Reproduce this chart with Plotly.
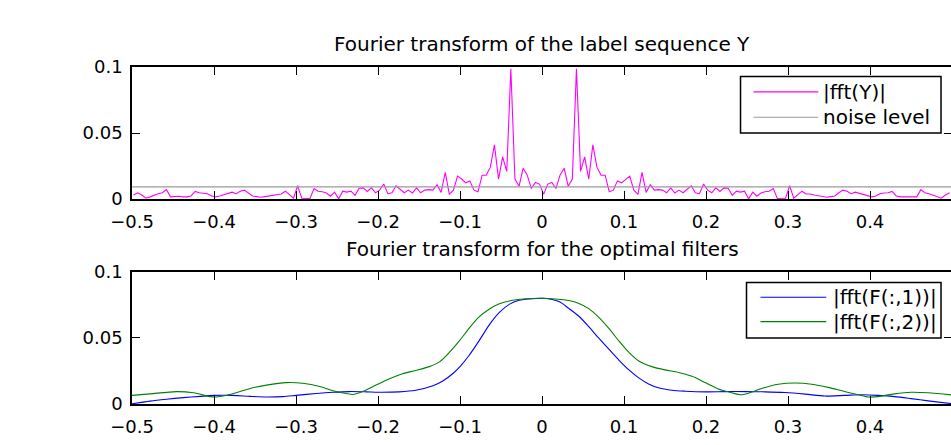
import numpy as np
import plotly.graph_objects as go

# ---------------- data ----------------
# |fft(Y)| sampled on an evenly spaced frequency grid (200 bins)
fft_freq = np.round(np.linspace(-0.498, 0.497, 200), 4)
fft_y = [
    0.0031,
    0.0048, 0.0031, 0.0007, 0.0017, 0.0031, 0.0041, 0.0048, 0.0072, 0.0017, 0.0022,
    0.0022, 0.0017, 0.0017, 0.0024, 0.0058, 0.0048, 0.0046, 0.0041, 0.0024, 0.0017,
    0.0024, 0.0034, 0.0043, 0.0053, 0.0041, 0.0060, 0.0068, 0.0048, 0.0024, 0.0019,
    0.0014, 0.0019, 0.0024, 0.0031, 0.0039, 0.0039, 0.0060, 0.0034, 0.0007, 0.0101,
    0.0007, 0.0005, 0.0005, 0.0080, 0.0060, 0.0056, 0.0046, 0.0022, 0.0053, 0.0002,
    0.0060, 0.0053, 0.0060, 0.0029, 0.0082, 0.0085, 0.0058, 0.0085, 0.0048, 0.0068,
    0.0114, 0.0041, 0.0048, 0.0101, 0.0077, 0.0048, 0.0068, 0.0046, 0.0085, 0.0048,
    0.0068, 0.0072, 0.0068, 0.0109, 0.0051, 0.0203, 0.0036, 0.0068, 0.0174, 0.0152,
    0.0123, 0.0138, 0.0068, 0.0056, 0.0181, 0.0181, 0.0242, 0.0411, 0.0152, 0.0319,
    0.0210, 0.0986, 0.0152, 0.0097, 0.0234, 0.0181, 0.0080, 0.0126, 0.0114,
    0.0036,
    0.0114, 0.0126, 0.0080, 0.0181, 0.0234, 0.0097, 0.0152, 0.0986, 0.0210,
    0.0319, 0.0152, 0.0411, 0.0242, 0.0181, 0.0181, 0.0056, 0.0068, 0.0138, 0.0123,
    0.0152, 0.0174, 0.0068, 0.0036, 0.0203, 0.0051, 0.0109, 0.0068, 0.0072, 0.0068,
    0.0048, 0.0085, 0.0046, 0.0068, 0.0048, 0.0077, 0.0101, 0.0048, 0.0041, 0.0114,
    0.0068, 0.0048, 0.0085, 0.0058, 0.0085, 0.0082, 0.0029, 0.0060, 0.0053, 0.0060,
    0.0002, 0.0053, 0.0022, 0.0046, 0.0056, 0.0060, 0.0080, 0.0005, 0.0005, 0.0007,
    0.0101, 0.0007, 0.0034, 0.0060, 0.0039, 0.0039, 0.0031, 0.0024, 0.0019, 0.0014,
    0.0019, 0.0024, 0.0048, 0.0068, 0.0060, 0.0041, 0.0053, 0.0043, 0.0034, 0.0024,
    0.0017, 0.0024, 0.0041, 0.0046, 0.0048, 0.0058, 0.0024, 0.0017, 0.0017, 0.0022,
    0.0022, 0.0017, 0.0072, 0.0048, 0.0041, 0.0031, 0.0017, 0.0007, 0.0031, 0.0048,
]
noise_level = 0.0093

blue_freq = [-0.5, -0.478, -0.458, -0.4375, -0.417, -0.4, -0.377, -0.356, -0.336, -0.316,
             -0.3, -0.275, -0.255, -0.235, -0.2145, -0.2, -0.174, -0.154, -0.133, -0.121,
             -0.109, -0.1, -0.089, -0.077, -0.0645, -0.052, -0.04, -0.028, -0.016, 0.002,
             0.0207, 0.033, 0.045, 0.057, 0.069, 0.0815, 0.094, 0.106, 0.118, 0.13,
             0.142, 0.1586, 0.175, 0.199, 0.223, 0.248, 0.272, 0.296, 0.321, 0.345,
             0.369, 0.39, 0.41, 0.43, 0.45, 0.471, 0.5]
blue_vals = [0.0002, 0.0022, 0.0036, 0.0048, 0.0058, 0.0065, 0.0065, 0.0058, 0.0053, 0.0056,
             0.0065, 0.0080, 0.0089, 0.0094, 0.0092, 0.0089, 0.0092, 0.0104, 0.0138, 0.0174,
             0.0229, 0.0283, 0.0367, 0.0476, 0.0597, 0.0693, 0.0754, 0.0785, 0.0795, 0.0800,
             0.0775, 0.0722, 0.0664, 0.0585, 0.0500, 0.0415, 0.0331, 0.0258, 0.0198, 0.0152,
             0.0123, 0.0104, 0.0097, 0.0092, 0.0094, 0.0094, 0.0092, 0.0087, 0.0075, 0.0060,
             0.0065, 0.0070, 0.0065, 0.0056, 0.0041, 0.0024, 0.0002]

green_freq = [-0.5, -0.478, -0.4457, -0.425, -0.405, -0.397, -0.377, -0.356, -0.336, -0.312,
              -0.292, -0.271, -0.255, -0.239, -0.231, -0.2186, -0.2024, -0.186, -0.17, -0.154,
              -0.1375, -0.125, -0.113, -0.101, -0.089, -0.077, -0.0645, -0.052, -0.036, -0.02,
              0.0, 0.0166, 0.033, 0.045, 0.057, 0.069, 0.0815, 0.094, 0.106, 0.118,
              0.134, 0.15, 0.1667, 0.183, 0.199, 0.215, 0.2315, 0.2417, 0.252, 0.268,
              0.288, 0.3086, 0.329, 0.349, 0.369, 0.3856, 0.398, 0.41, 0.43, 0.45,
              0.471, 0.5]
green_vals = [0.0065, 0.0077, 0.0094, 0.0085, 0.0056, 0.0053, 0.0077, 0.0118, 0.0143, 0.0162,
              0.0157, 0.0133, 0.0101, 0.0080, 0.0072, 0.0094, 0.0143, 0.0191, 0.0229, 0.0254,
              0.0283, 0.0319, 0.0391, 0.0476, 0.0572, 0.0657, 0.0717, 0.0758, 0.0785, 0.0797,
              0.0800, 0.0795, 0.0783, 0.0761, 0.0722, 0.0657, 0.0572, 0.0476, 0.0391, 0.0326,
              0.0283, 0.0258, 0.0239, 0.0210, 0.0162, 0.0114, 0.0085, 0.0070, 0.0082, 0.0118,
              0.0150, 0.0159, 0.0150, 0.0126, 0.0094, 0.0070, 0.0053, 0.0056, 0.0077, 0.0089,
              0.0085, 0.0068]

x_ticks = [-0.5, -0.4, -0.3, -0.2, -0.1, 0, 0.1, 0.2, 0.3, 0.4, 0.5]
x_tick_text = ["\u22120.5", "\u22120.4", "\u22120.3", "\u22120.2", "\u22120.1", "0",
               "0.1", "0.2", "0.3", "0.4", "0.5"]
y_ticks = [0, 0.05, 0.1]
y_tick_text = ["0", "0.05", "0.1"]

title_top = "Fourier transform of the label sequence Y"
title_bottom = "Fourier transform for the optimal filters"
legend_top = ["|fft(Y)|", "noise level"]
legend_bottom = ["|fft(F(:,1))|", "|fft(F(:,2))|"]

MAGENTA = "#ff00ff"
GRAY = "#9a9a9a"
BLUE = "#0000ff"
GREEN = "#008000"

FONT = "DejaVu Sans"

# ---------------- figure ----------------
W, H = 962, 445
L, R, T, B = 132, 8, 67, 26
plot_h = H - T - B  # 352

fig = go.Figure()
fig.add_trace(go.Scatter(x=fft_freq, y=fft_y, mode="lines",
                         line=dict(color=MAGENTA, width=1.1),
                         xaxis="x", yaxis="y", showlegend=False))
fig.add_trace(go.Scatter(x=[-0.5, 0.5], y=[noise_level, noise_level], mode="lines",
                         line=dict(color=GRAY, width=1.1),
                         xaxis="x", yaxis="y", showlegend=False))
fig.add_trace(go.Scatter(x=blue_freq, y=blue_vals, mode="lines",
                         line=dict(color=BLUE, width=1.1, shape="spline", smoothing=0.8),
                         xaxis="x2", yaxis="y2", showlegend=False))
fig.add_trace(go.Scatter(x=green_freq, y=green_vals, mode="lines",
                         line=dict(color=GREEN, width=1.1, shape="spline", smoothing=0.8),
                         xaxis="x2", yaxis="y2", showlegend=False))

axis_common = dict(showline=True, linecolor="black", linewidth=1.5, mirror="ticks",
                   ticks="inside", ticklen=8, tickwidth=1, tickcolor="black",
                   showgrid=False, zeroline=False,
                   tickfont=dict(family=FONT, size=18, color="black"))

def py2paper(py):
    return (H - B - py) / plot_h

def px2paper(px):
    return (px - L) / (W - L - R)

top_dom = [py2paper(205), 1.0]
bot_dom = [0.0, py2paper(281)]

xax = dict(range=[-0.5, 0.5], tickvals=x_ticks, ticktext=x_tick_text,
           ticklabelstandoff=6, **axis_common)
yax = dict(range=[0, 0.1], tickvals=y_ticks, ticktext=y_tick_text,
           ticklabelstandoff=4, **axis_common)

fig.update_layout(
    width=W, height=H,
    margin=dict(l=L, r=R, t=T, b=B),
    paper_bgcolor="white", plot_bgcolor="white",
    xaxis=dict(domain=[0, 1], anchor="y", **xax),
    yaxis=dict(domain=top_dom, anchor="x", **yax),
    xaxis2=dict(domain=[0, 1], anchor="y2", **xax),
    yaxis2=dict(domain=bot_dom, anchor="x2", **yax),
)

# titles
for text, py in [(title_top, 43), (title_bottom, 257)]:
    fig.add_annotation(text=text, xref="paper", yref="paper", x=0.5, y=py2paper(py),
                       xanchor="center", yanchor="middle", showarrow=False,
                       font=dict(family=FONT, size=20, color="black"))

# legends (drawn as boxes with sample lines and text)
def draw_legend(box, items):
    x0, y0, x1, y1 = box
    fig.add_shape(type="rect", xref="paper", yref="paper",
                  x0=px2paper(x0), x1=px2paper(x1), y0=py2paper(y0), y1=py2paper(y1),
                  line=dict(color="black", width=1.5), fillcolor="white", layer="above")
    for label, color, ly, lx0, lx1, tx in items:
        fig.add_shape(type="line", xref="paper", yref="paper",
                      x0=px2paper(lx0), x1=px2paper(lx1), y0=py2paper(ly), y1=py2paper(ly),
                      line=dict(color=color, width=1.1), layer="above")
        fig.add_annotation(text=label, xref="paper", yref="paper",
                           x=px2paper(tx), y=py2paper(ly), xanchor="left", yanchor="middle",
                           showarrow=False, font=dict(family=FONT, size=20, color="black"))

draw_legend((742, 77, 943, 136), [
    (legend_top[0], MAGENTA, 93, 755, 820, 823),
    (legend_top[1], GRAY, 119.5, 755, 820, 823),
])
draw_legend((748, 292, 943, 350), [
    (legend_bottom[0], BLUE, 307.5, 762, 828, 833),
    (legend_bottom[1], GREEN, 333, 762, 828, 833),
])

fig.write_html("out.html",
               post_script="document.documentElement.style.overflow='hidden';"
                           "document.body.style.overflow='hidden';"
                           "document.body.style.margin='0';")
